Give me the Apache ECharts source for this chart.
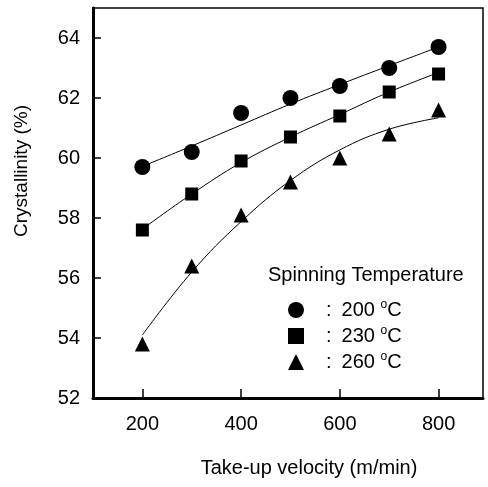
<!DOCTYPE html>
<html>
<head>
<meta charset="utf-8">
<script src="https://cdn.jsdelivr.net/npm/echarts@6/dist/echarts.min.js"></script>
<style>
html, body { margin: 0; padding: 0; background: #fff; }
#chart { width: 488px; height: 487px; }
</style>
</head>
<body>
<div id="chart"></div>
<script>
// take-up velocity (m/min)
var velocity = [200, 300, 400, 500, 600, 700, 800];
// measured crystallinity (%)
var t200 = [59.7, 60.2, 61.5, 62.0, 62.4, 63.0, 63.7];
var t230 = [57.6, 58.8, 59.9, 60.7, 61.4, 62.2, 62.8];
var t260 = [53.8, 56.4, 58.1, 59.2, 60.0, 60.8, 61.6];
// fitted curves
var fit200 = [59.72, 60.4, 61.1, 61.8, 62.45, 63.08, 63.7];
var fit230 = [57.63, 58.8, 59.85, 60.7, 61.45, 62.2, 62.85];
var fit260 = [54.1, 56.2, 57.88, 59.25, 60.27, 60.96, 61.34];
var xTicks = [200, 400, 600, 800];
var yTicks = [52, 54, 56, 58, 60, 62, 64];
var legendNames = ['200', '230', '260'];

var font = '"Liberation Sans", Arial, sans-serif';
var chart = echarts.init(document.getElementById('chart'));

function pairs(ys) {
	return velocity.map(function(x, i) { return [x, ys[i]]; });
}

var markers = [
	{ name: legendNames[0], data: t200, symbol: 'circle', size: 16 },
	{ name: legendNames[1], data: t230, symbol: 'rect', size: 13 },
	{ name: legendNames[2], data: t260, symbol: 'triangle', size: 15 }
];
var fits = [fit200, fit230, fit260];

var series = [];
fits.forEach(function(f) {
	series.push({
		type: 'line',
		data: pairs(f),
		smooth: 0.4,
		showSymbol: false,
		silent: true,
		lineStyle: { color: '#000', width: 1 }
	});
});
markers.forEach(function(m) {
	series.push({
		name: m.name,
		type: 'scatter',
		data: pairs(m.data),
		symbol: m.symbol,
		symbolSize: m.size,
		itemStyle: { color: '#000', opacity: 1 }
	});
});

var option = {
	animation: false,
	grid: {
		left: 93, top: 8, right: 5, bottom: 89,
		show: true,
		borderColor: '#000',
		borderWidth: 1.5,
		backgroundColor: 'transparent'
	},
	xAxis: {
		type: 'value',
		min: 100,
		max: 890,
		axisLine: { lineStyle: { color: '#000', width: 3 } },
		axisTick: { inside: true, length: 9, customValues: xTicks, lineStyle: { color: '#000', width: 1.5 } },
		axisLabel: { customValues: xTicks, color: '#000', fontSize: 20, fontFamily: font, margin: 16 },
		splitLine: { show: false }
	},
	yAxis: {
		type: 'value',
		min: 52,
		max: 65,
		axisLine: { lineStyle: { color: '#000', width: 3 } },
		axisTick: { inside: true, length: 8, customValues: yTicks, lineStyle: { color: '#000', width: 1.5 } },
		axisLabel: { customValues: yTicks, color: '#000', fontSize: 20, fontFamily: font, margin: 13 },
		splitLine: { show: false }
	},
	legend: {
		data: legendNames,
		orient: 'vertical',
		left: 283,
		top: 294,
		itemWidth: 16,
		itemHeight: 16,
		itemGap: 5,
		textStyle: {
			color: '#000',
			fontFamily: font,
			rich: {
				c: { fontSize: 20, fontFamily: font, color: '#000', padding: [0, 10, 0, 17] },
				t: { fontSize: 20, fontFamily: font, color: '#000', lineHeight: 22 },
				s: { fontSize: 12, fontFamily: font, color: '#000', verticalAlign: 'top', lineHeight: 22 }
			}
		},
		formatter: function(name) {
			return '{c|:}{t|' + name + ' }{s|o}{t|C}';
		}
	},
	graphic: [
		{
			type: 'text',
			left: 268,
			top: 265,
			style: { text: 'Spinning Temperature', fontSize: 20, fontFamily: font, fill: '#000' }
		},
		{
			type: 'text',
			x: 22,
			y: 171,
			rotation: Math.PI / 2,
			style: { text: 'Crystallinity (%)', fontSize: 19, fontFamily: font, fill: '#000', align: 'center', verticalAlign: 'middle' }
		},
		{
			type: 'text',
			x: 309,
			y: 468,
			style: { text: 'Take-up velocity (m/min)', fontSize: 20, fontFamily: font, fill: '#000', align: 'center', verticalAlign: 'middle' }
		}
	],
	series: series
};
chart.setOption(option);
</script>
</body>
</html>
